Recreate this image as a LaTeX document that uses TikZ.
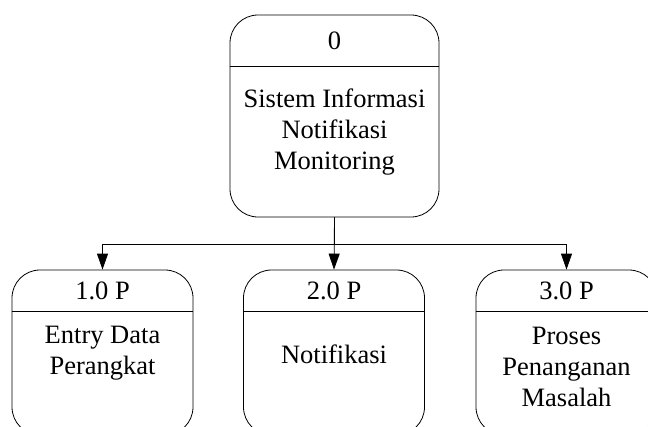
\documentclass[tikz,border=0pt]{standalone}
\usepackage{fontspec}
\setmainfont{Liberation Serif}
\usetikzlibrary{positioning, arrows.meta}

\begin{document}
\begin{tikzpicture}[>={Triangle[width=11pt,length=16pt]}, line width=0.8pt,
    proc/.style={draw, rounded corners=28pt, minimum width=181pt, minimum height=165pt, inner sep=0pt},
    lbl/.style={font=\fontsize{26.5}{31}\selectfont, align=center, inner sep=0pt, anchor=base}]

    \useasboundingbox (0,0) rectangle (648pt,-426pt);

    \node[proc, minimum width=209pt, minimum height=202pt] (p0) at (334.5pt,-116pt) {};
    \node[proc] (p1) at (102.5pt,-352.5pt) {};
    \node[proc] (p2) at (334pt,-352.5pt) {};
    \node[proc] (p3) at (566.5pt,-352.5pt) {};

    \draw[-] ([yshift=-52pt]p0.north west) to ([yshift=-52pt]p0.north east);
    \foreach \p in {p1,p2,p3}
        \draw[-] ([yshift=-42pt]\p.north west) to ([yshift=-42pt]\p.north east);

    \node[lbl] (h0) at ([yshift=-35pt]p0.north) {0};
    \node[lbl] (t0) at ([yshift=-155pt]p0.north) {Sistem Informasi\\Notifikasi\\Monitoring};
    \node[lbl] (h1) at ([yshift=-30pt]p1.north) {1.0 P};
    \node[lbl] (t1) at ([yshift=-105pt]p1.north) {Entry Data\\Perangkat};
    \node[lbl] (h2) at ([yshift=-30pt]p2.north) {2.0 P};
    \node[lbl] (t2) at ([yshift=-94pt]p2.north) {Notifikasi};
    \node[lbl] (h3) at ([yshift=-30pt]p3.north) {3.0 P};
    \node[lbl] (t3) at ([yshift=-137pt]p3.north) {Proses\\Penanganan\\Masalah};

    \draw[->] (p0.south) to (p2.north);
    \draw[->] (p0.south) -- ++(0,-27pt) -| (p1.north);
    \draw[->] (p0.south) -- ++(0,-27pt) -| (p3.north);

\end{tikzpicture}
\end{document}
